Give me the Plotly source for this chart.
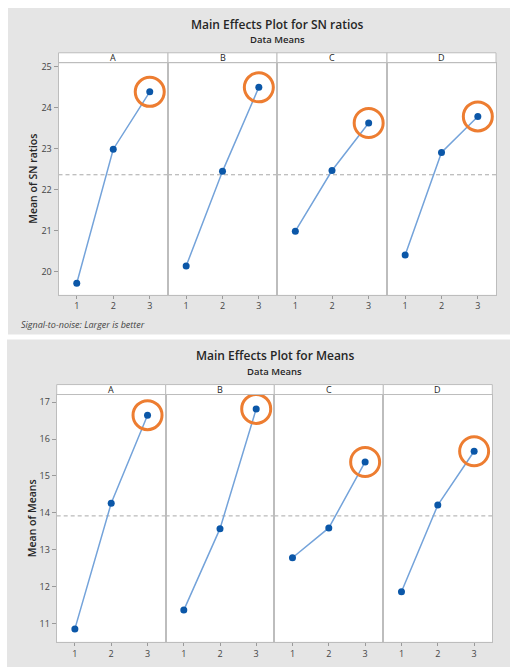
import plotly.graph_objects as go

W, H = 510, 667

# ---------------- data ----------------
factors = ["A", "B", "C", "D"]
levels = [1, 2, 3]

# Main Effects Plot for SN ratios (Signal-to-noise: Larger is better)
sn_A = [19.72, 22.99, 24.39]
sn_B = [20.14, 22.45, 24.50]
sn_C = [20.99, 22.47, 23.63]
sn_D = [20.41, 22.91, 23.79]
sn_yticks = [20, 21, 22, 23, 24, 25]

# Main Effects Plot for Means
mean_A = [10.85, 14.26, 16.65]
mean_B = [11.36, 13.57, 16.82]
mean_C = [12.78, 13.59, 15.38]
mean_D = [11.86, 14.21, 15.67]
mean_yticks = [11, 12, 13, 14, 15, 16, 17]

sn_series = [sn_A, sn_B, sn_C, sn_D]
mean_series = [mean_A, mean_B, mean_C, mean_D]

# ---------------- style ----------------
FONT = "Open Sans"
BG_GRAY = "#E5E5E5"
LINE_BLUE = "#74A3DA"
DOT_BLUE = "#0B57A8"
ORANGE = "#ED7D31"
FRAME = "#BDBDBD"
TXT = "#333333"


def px(x):
    return x / W


def py(y):
    return 1 - y / H


rows = [
    dict(series=sn_series, yticks=sn_yticks, yrange=[19.44, 25.10],
         edges=[58.5, 168, 277, 387, 496], ptop=60, pbot=293, stop=50,
         box=[8, 5, 510, 333], title="Main Effects Plot for SN ratios",
         ty=22, sty=36.5, ytitle="Mean of SN ratios", ytx=33,
         note="Signal-to-noise: Larger is better", note_y=323),
    dict(series=mean_series, yticks=mean_yticks, yrange=[10.50, 17.21],
         edges=[56.7, 165.7, 274.3, 383.3, 492.3], ptop=393.3, pbot=641.7, stop=383.3,
         box=[7, 338, 510, 667], title="Main Effects Plot for Means",
         ty=354.5, sty=370, ytitle="Mean of Means", ytx=32,
         note=None, note_y=None),
]

fig = go.Figure()
layout = dict(
    width=W, height=H, margin=dict(l=0, r=0, t=0, b=0),
    paper_bgcolor="white", plot_bgcolor="rgba(0,0,0,0)",
    showlegend=False, font=dict(family=FONT, color=TXT),
)
shapes = []
annotations = []

idx = 0
for r, row in enumerate(rows):
    bx0, by0, bx1, by1 = row["box"]
    shapes.append(dict(type="rect", xref="paper", yref="paper", layer="below",
                       x0=px(bx0), x1=px(bx1), y0=py(by1), y1=py(by0),
                       fillcolor=BG_GRAY, line=dict(width=0)))
    e = row["edges"]
    shapes.append(dict(type="rect", xref="paper", yref="paper", layer="below",
                       x0=px(e[0]), x1=px(e[-1]), y0=py(row["pbot"]), y1=py(row["ptop"]),
                       fillcolor="white", line=dict(width=0)))
    # titles
    annotations.append(dict(text=row["title"], xref="paper", yref="paper",
                            x=px((e[0] + e[-1]) / 2), y=py(row["ty"]), showarrow=False,
                            xanchor="center", yanchor="middle", borderpad=0,
                            font=dict(size=12, family=FONT, color="#262626", weight=600)))
    annotations.append(dict(text="Data Means", xref="paper", yref="paper",
                            x=px((e[0] + e[-1]) / 2), y=py(row["sty"]), showarrow=False,
                            xanchor="center", yanchor="middle", borderpad=0,
                            font=dict(size=9.5, family=FONT, color="#262626", weight=600)))
    annotations.append(dict(text=row["ytitle"], xref="paper", yref="paper",
                            x=px(row["ytx"]), y=py((row["ptop"] + row["pbot"]) / 2),
                            showarrow=False, textangle=-90,
                            xanchor="center", yanchor="middle",
                            font=dict(size=10.5, family=FONT, color="#262626", weight=600)))
    if row["note"]:
        annotations.append(dict(text="<i>" + row["note"] + "</i>", xref="paper", yref="paper",
                                x=px(19), y=py(row["note_y"]), showarrow=False,
                                xanchor="left", yanchor="middle",
                                font=dict(size=9, family=FONT, color="#444444")))

    all_vals = [v for s in row["series"] for v in s]
    grand_mean = sum(all_vals) / len(all_vals)

    for c, fac in enumerate(factors):
        idx += 1
        sfx = "" if idx == 1 else str(idx)
        xa, ya = "x" + sfx, "y" + sfx
        vals = row["series"][c]
        l, rr = e[c], e[c + 1]
        # strip header
        shapes.append(dict(type="rect", xref="paper", yref="paper", layer="below",
                           x0=px(l), x1=px(rr), y0=py(row["ptop"]), y1=py(row["stop"]),
                           fillcolor="white", line=dict(color=FRAME, width=1)))
        annotations.append(dict(text=fac, xref="paper", yref="paper",
                                x=px((l + rr) / 2), y=py((row["ptop"] + row["stop"]) / 2),
                                showarrow=False, xanchor="center", yanchor="middle",
                                font=dict(size=9, family=FONT, color="#262626")))
        # grand mean reference line
        shapes.append(dict(type="line", xref=xa + " domain", yref=ya, layer="below",
                           x0=0, x1=1, y0=grand_mean, y1=grand_mean,
                           line=dict(color="#A8A8A8", width=1, dash="4px,3px")))
        fig.add_trace(go.Scatter(
            x=levels, y=vals, mode="lines+markers", xaxis=xa, yaxis=ya,
            line=dict(color=LINE_BLUE, width=1.5),
            marker=dict(color=DOT_BLUE, size=7),
            hoverinfo="skip"))
        best = vals.index(max(vals))
        fig.add_trace(go.Scatter(
            x=[levels[best]], y=[vals[best]], mode="markers", xaxis=xa, yaxis=ya,
            marker=dict(symbol="circle-open", size=29, color=ORANGE,
                        line=dict(width=3, color=ORANGE)),
            hoverinfo="skip"))

        layout["xaxis" + sfx] = dict(
            domain=[px(l), px(rr)], range=[0.5, 3.5], anchor=ya,
            tickvals=levels, ticktext=[str(v) for v in levels],
            ticks="outside", ticklen=3, tickcolor="#9A9A9A",
            showline=True, linecolor=FRAME, linewidth=1, mirror=True,
            showgrid=False, zeroline=False, fixedrange=True,
            tickfont=dict(size=9, family=FONT, color="#444444"))
        layout["yaxis" + sfx] = dict(
            domain=[py(row["pbot"]), py(row["ptop"])], range=row["yrange"], anchor=xa,
            tickvals=row["yticks"], ticks="outside" if c == 0 else "",
            ticklen=4, tickcolor="#9A9A9A", showticklabels=(c == 0),
            showline=True, linecolor=FRAME, linewidth=1, mirror=True,
            showgrid=False, zeroline=False, fixedrange=True,
            tickfont=dict(size=9, family=FONT, color="#444444"))

layout["shapes"] = shapes
layout["annotations"] = annotations
fig.update_layout(**layout)
fig.write_html("out.html", config={"displayModeBar": False},
               post_script="document.body.style.margin='0px';")
